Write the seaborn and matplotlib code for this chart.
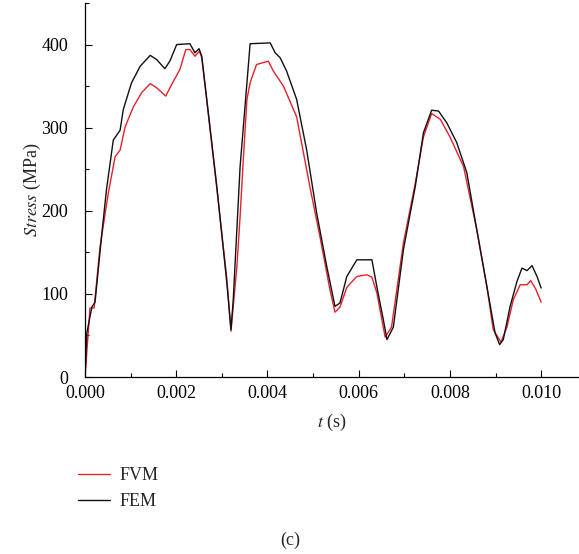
import numpy as np
import pandas as pd
import matplotlib
matplotlib.use("Agg")
import matplotlib.pyplot as plt
import seaborn as sns
from matplotlib.ticker import MultipleLocator

# FEM (black)
fem_t = [0.0, 0.00004, 0.00015, 0.00022, 0.00037, 0.00047, 0.00062, 0.00077, 0.00084, 0.00102,
         0.00121, 0.00143, 0.00157, 0.00175, 0.00186, 0.00201, 0.0023, 0.00241, 0.0025, 0.00256,
         0.00267, 0.00289, 0.00311, 0.0032, 0.00325, 0.0034, 0.00362, 0.00406, 0.00417, 0.00428,
         0.00442, 0.00464, 0.00486, 0.00508, 0.0053, 0.00548, 0.00559, 0.00574, 0.00596, 0.00629,
         0.0064, 0.00654, 0.00662, 0.00676, 0.00698, 0.00724, 0.00742, 0.0076, 0.00775, 0.00793,
         0.00815, 0.00837, 0.00859, 0.00881, 0.00899, 0.00909, 0.00917, 0.00932, 0.00947, 0.00958,
         0.00969, 0.0098, 0.00991, 0.0100]
fem_s = [0, 53, 84, 90, 173, 225, 285, 297, 322, 354,
         374, 387, 382, 371, 380, 400, 401, 390, 395, 386,
         334, 229, 113, 57, 93, 253, 401, 402, 390, 384,
         368, 334, 273, 197, 133, 85, 89, 121, 141, 141,
         108, 69, 45, 60, 153, 229, 294, 321, 320, 306,
         282, 246, 177, 109, 53, 39, 45, 85, 115, 131,
         128, 134, 121, 107]

# FVM (red)
fvm_t = [0.0, 0.00011, 0.0002, 0.00033, 0.00051, 0.00066, 0.00077, 0.00088, 0.00106, 0.00124,
         0.00143, 0.00157, 0.00177, 0.0019, 0.00208, 0.00221, 0.0023, 0.00241, 0.00251, 0.00256,
         0.00267, 0.00289, 0.00311, 0.0032, 0.00333, 0.0034, 0.00347, 0.00355, 0.00362, 0.00376,
         0.00402, 0.00413, 0.00435, 0.00464, 0.00493, 0.00515, 0.00537, 0.00548, 0.00559, 0.00574,
         0.00596, 0.00618, 0.00629, 0.0064, 0.00658, 0.00672, 0.00698, 0.00724, 0.00742, 0.0076,
         0.00779, 0.008, 0.0083, 0.00859, 0.00881, 0.00895, 0.00912, 0.00925, 0.00939, 0.00954,
         0.00969, 0.00977, 0.00988, 0.0100]
fvm_s = [0, 83, 83, 157, 221, 265, 273, 301, 325, 342,
         353, 348, 338, 352, 370, 394, 394, 386, 392, 384,
         332, 227, 118, 55, 133, 193, 261, 334, 354, 376,
         380, 368, 350, 313, 229, 169, 105, 78, 84, 108,
         121, 123, 120, 101, 48, 60, 161, 233, 289, 317,
         310, 289, 253, 177, 109, 57, 42, 60, 93, 111,
         111, 116, 106, 90]

methods = ["FVM", "FEM"]
colors = {"FVM": "#e8202a", "FEM": "#111111"}

df = pd.concat([
    pd.DataFrame({"t": fvm_t, "stress": fvm_s, "method": "FVM"}),
    pd.DataFrame({"t": fem_t, "stress": fem_s, "method": "FEM"}),
], ignore_index=True)

sns.set_style("ticks")
plt.rcParams["font.family"] = ["Liberation Serif", "DejaVu Serif"]
plt.rcParams["mathtext.fontset"] = "stix"

fig = plt.figure(figsize=(5.79, 5.54), dpi=100)
ax = fig.add_axes([85 / 579, (554 - 377) / 554, (579 - 85) / 579, 374 / 554])

sns.lineplot(data=df, x="t", y="stress", hue="method", hue_order=methods,
             palette=colors, sort=False, estimator=None, linewidth=1.0, ax=ax)

ax.set_xlim(0, 0.01083)
ax.set_ylim(0, 450)
ax.xaxis.set_major_locator(MultipleLocator(0.002))
ax.xaxis.set_minor_locator(MultipleLocator(0.001))
ax.yaxis.set_major_locator(MultipleLocator(100))
ax.yaxis.set_minor_locator(MultipleLocator(50))
ax.xaxis.set_major_formatter(matplotlib.ticker.FormatStrFormatter("%.3f"))
ax.tick_params(which="both", direction="in", labelsize=13, width=0.8, colors="black")
ax.tick_params(which="major", length=5)
ax.tick_params(which="minor", length=3)
ax.tick_params(axis="y", which="both", pad=12)
ax.tick_params(axis="x", which="both", pad=6)
for s in ["top", "right"]:
    ax.spines[s].set_visible(False)
for s in ["left", "bottom"]:
    ax.spines[s].set_linewidth(0.9)
    ax.spines[s].set_color("black")

ax.set_xlabel("$t$ (s)", fontsize=13, labelpad=7)
ax.set_ylabel("$\\mathit{Stress}$ (MPa)", fontsize=13, labelpad=-1)

ax.get_legend().remove()
handles = [plt.Line2D([], [], color=colors[m], lw=1.0) for m in methods]
fig.legend(handles, methods, loc="upper left", bbox_to_anchor=(62 / 579, 1 - 451 / 554),
           frameon=False, fontsize=13, handlelength=1.75, handletextpad=0.55,
           labelspacing=0.5)

fig.text(290 / 579, 1 - 540 / 554, "(c)", ha="center", va="center", fontsize=13)

fig.savefig("out.png", dpi=100)
